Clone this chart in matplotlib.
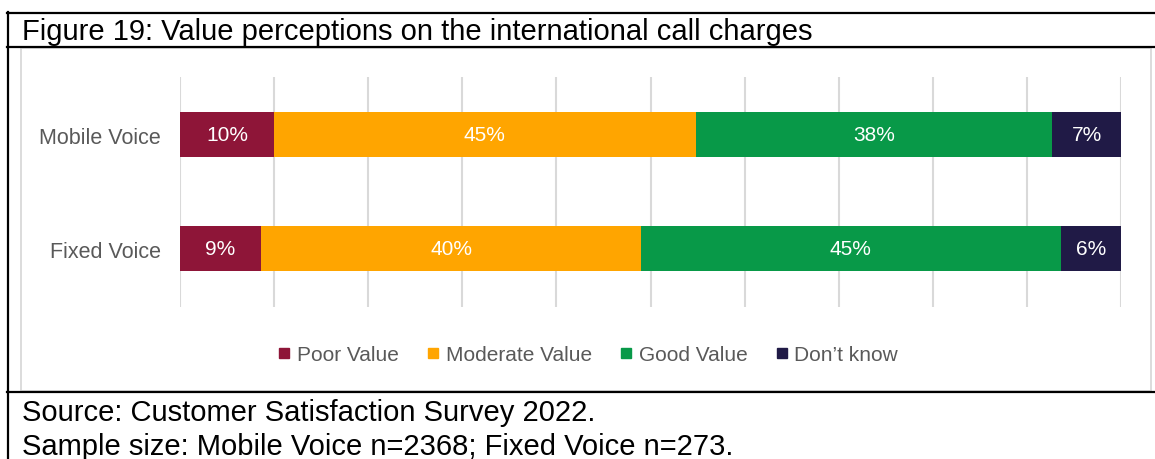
import matplotlib.pyplot as plt
from matplotlib.lines import Line2D
from matplotlib.patches import Rectangle

plt.rcParams['font.family'] = ['Liberation Sans', 'DejaVu Sans']

# Data (percent of respondents)
categories = ['Fixed Voice', 'Mobile Voice']
series_names = ['Poor Value', 'Moderate Value', 'Good Value', 'Don\u2019t know']
poor = [8.6, 10.0]
moderate = [40.4, 44.8]
good = [44.6, 37.9]
dont_know = [6.4, 7.3]
colors = ['#8E1538', '#FFA500', '#089948', '#201A46']

W, H = 1155, 460
fig = plt.figure(figsize=(W / 100, H / 100), dpi=100)

# Axes placed in pixel terms of the reference
ax = fig.add_axes([180 / W, 1 - 308 / H, (1121 - 180) / W, (308 - 78) / H])

values = [poor, moderate, good, dont_know]
left = [0, 0]
for name, vals, col in zip(series_names, values, colors):
    bars = ax.barh(categories, vals, left=left, height=0.395, color=col, label=name, zorder=3)
    for b, v in zip(bars, vals):
        ax.text(b.get_x() + b.get_width() / 2, b.get_y() + b.get_height() / 2,
                f'{v:.0f}%', ha='center', va='center', color='white', fontsize=15, zorder=4)
    left = [l + v for l, v in zip(left, vals)]

ax.set_xlim(0, 100)
ax.set_ylim(-0.513, 1.505)
ax.set_xticks(range(0, 101, 10))
ax.xaxis.grid(True, color='#d9d9d9', linewidth=1.5, zorder=0)
ax.tick_params(axis='x', length=0, labelbottom=False)
ax.tick_params(axis='y', length=0, pad=14, labelsize=15.5, labelcolor='#595959')
for s in ax.spines.values():
    s.set_visible(False)

# Legend
handles = [Line2D([0], [0], marker='s', linestyle='none', markersize=7.5,
                  markerfacecolor=c, markeredgecolor=c) for c in colors]
leg = fig.legend(handles, series_names, loc='center', bbox_to_anchor=(588 / W, 1 - 356 / H),
                 ncol=4, frameon=False, fontsize=15, handlelength=0.6, handletextpad=0.3,
                 columnspacing=1.35)
for t in leg.get_texts():
    t.set_color('#595959')

# Frame lines
def hline(y, x0=7, x1=W, color='black', lw=1.6):
    fig.add_artist(Line2D([x0 / W, x1 / W], [1 - y / H, 1 - y / H], color=color, lw=lw))

hline(13.5)
hline(47.5)
hline(393)
fig.add_artist(Line2D([7.5 / W, 7.5 / W], [1 - 13 / H, 0], color='black', lw=1.6))
fig.add_artist(Rectangle((20.5 / W, 1 - 391.5 / H), (1150.5 - 20.5) / W, (391.5 - 48.5) / H,
                         fill=False, edgecolor='#d9d9d9', lw=1.3))

# Title and notes
fig.text(22 / W, 1 - 32.5 / H, 'Figure 19: Value perceptions on the international call charges',
         ha='left', va='center', fontsize=21)
fig.text(22 / W, 1 - 413 / H, 'Source: Customer Satisfaction Survey 2022.',
         ha='left', va='center', fontsize=21)
fig.text(22 / W, 1 - 447 / H, 'Sample size: Mobile Voice n=2368; Fixed Voice n=273.',
         ha='left', va='center', fontsize=21)

fig.savefig('out.png', dpi=100)
